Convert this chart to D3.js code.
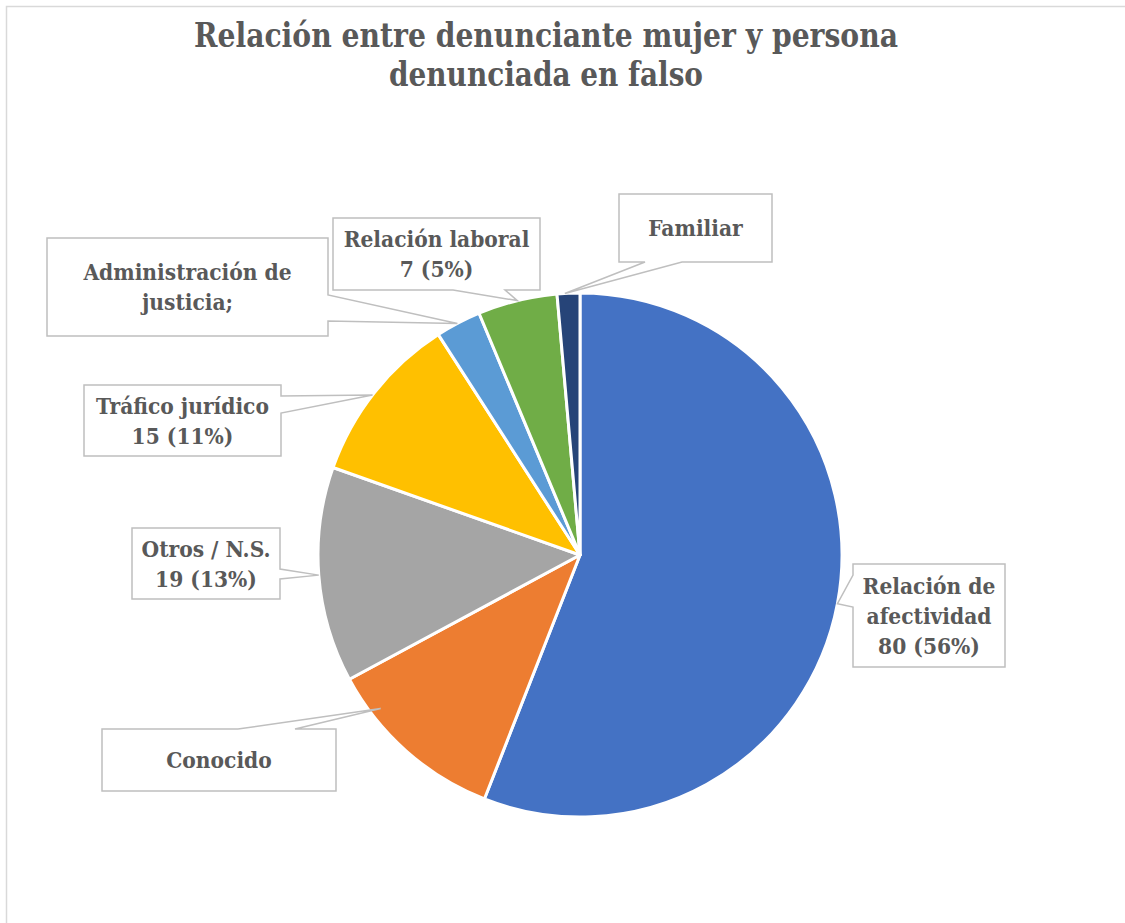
<!DOCTYPE html>
<html>
<head>
<meta charset="utf-8">
<script src="https://cdn.jsdelivr.net/npm/d3@7"></script>
<style>
  body { margin: 0; background: #fff; }
  svg text { font-weight: bold; fill: #595959; }
</style>
</head>
<body>
<div id="chart"></div>
<script>
// data
const categories = ['Relación de afectividad', 'Conocido', 'Otros / N.S.', 'Tráfico jurídico',
                    'Administración de justicia;', 'Relación laboral', 'Familiar'];
const values = [80, 16, 19, 15, 4, 7, 2];
const labelLines = [
  ['Relación de', 'afectividad', '80 (56%)'],
  ['Conocido'],
  ['Otros / N.S.', '19 (13%)'],
  ['Tráfico jurídico', '15 (11%)'],
  ['Administración de', 'justicia;'],
  ['Relación laboral', '7 (5%)'],
  ['Familiar']
];
const colors = ['#4472C4', '#ED7D31', '#A5A5A5', '#FFC000', '#5B9BD5', '#70AD47', '#264478'];

// callout layout (box, side with pointer, pointer base, where along slice the tip sits)
const callouts = [
  {x: 853, y: 564, w: 152, h: 103, side: 'left',   base: [575, 607], t: 0.5,  r: 1},
  {x: 102, y: 729, w: 234, h: 62,  side: 'top',    base: [238, 295], t: 0.77, r: 0.96},
  {x: 132, y: 528, w: 148, h: 71,  side: 'right',  base: [569, 579], t: 0.5,  r: 1},
  {x: 84,  y: 385, w: 197, h: 71,  side: 'right',  base: [396, 413], t: 0.48, r: 1},
  {x: 47,  y: 238, w: 281, h: 98,  side: 'right',  base: [295, 321], t: 0.48, r: 1},
  {x: 333, y: 218, w: 207, h: 72,  side: 'bottom', base: [453, 505], t: 0.5,  r: 1},
  {x: 619, y: 194, w: 153, h: 68,  side: 'bottom', base: [645, 682], t: 0.34, r: 1}
];

const W = 1125, H = 923;
const cx = 580, cy = 555, R = 262;

const svg = d3.select('#chart').append('svg')
  .attr('width', W).attr('height', H);

// chart frame
svg.append('rect')
  .attr('x', 6.5).attr('y', 6.5)
  .attr('width', W + 10).attr('height', H + 10)
  .attr('fill', '#fff').attr('stroke', '#d9d9d9').attr('stroke-width', 1.5);

// title
const title = svg.append('text')
  .attr('text-anchor', 'middle')
  .style('font-family', '"DejaVu Serif Condensed", "DejaVu Serif", serif')
  .style('font-size', '33px');
title.append('tspan').attr('x', 546).attr('y', 47)
  .attr('textLength', 704).attr('lengthAdjust', 'spacingAndGlyphs')
  .text('Relación entre denunciante mujer y persona');
title.append('tspan').attr('x', 546).attr('y', 86)
  .attr('textLength', 314).attr('lengthAdjust', 'spacingAndGlyphs')
  .text('denunciada en falso');

const pie = d3.pie().sort(null).value(d => d);
const arcs = pie(values);
const arc = d3.arc().innerRadius(0).outerRadius(R);

const g = svg.append('g').attr('transform', `translate(${cx},${cy})`);
g.selectAll('path')
  .data(arcs)
  .enter()
  .append('path')
  .attr('d', arc)
  .attr('fill', (d, i) => colors[i])
  .attr('stroke', '#fff')
  .attr('stroke-width', 3)
  .attr('stroke-linejoin', 'round');

// callout path: rectangle with a wedge pointing at the slice
const calloutPath = (c, tip) => {
  const x0 = c.x, y0 = c.y, x1 = c.x + c.w, y1 = c.y + c.h;
  const [a, b] = c.base;
  const p = d3.path();
  p.moveTo(x0, y0);
  if (c.side === 'top') { p.lineTo(a, y0); p.lineTo(tip[0], tip[1]); p.lineTo(b, y0); }
  p.lineTo(x1, y0);
  if (c.side === 'right') { p.lineTo(x1, a); p.lineTo(tip[0], tip[1]); p.lineTo(x1, b); }
  p.lineTo(x1, y1);
  if (c.side === 'bottom') { p.lineTo(b, y1); p.lineTo(tip[0], tip[1]); p.lineTo(a, y1); }
  p.lineTo(x0, y1);
  if (c.side === 'left') { p.lineTo(x0, b); p.lineTo(tip[0], tip[1]); p.lineTo(x0, a); }
  p.closePath();
  return p.toString();
};

const labels = svg.append('g');
arcs.forEach((d, i) => {
  const c = callouts[i];
  const ang = d.startAngle + c.t * (d.endAngle - d.startAngle);
  const tip = [cx + R * c.r * Math.sin(ang), cy - R * c.r * Math.cos(ang)];
  labels.append('path')
    .attr('d', calloutPath(c, tip))
    .attr('fill', '#fff')
    .attr('stroke', '#bfbfbf')
    .attr('stroke-width', 1.5);
  const lines = labelLines[i];
  const lh = 30;
  const midY = c.y + c.h / 2;
  const t = labels.append('text')
    .attr('text-anchor', 'middle')
    .style('font-family', '"DejaVu Serif Condensed", "DejaVu Serif", serif')
    .style('font-size', '22.5px');
  lines.forEach((ln, k) => {
    t.append('tspan')
      .attr('x', c.x + c.w / 2)
      .attr('y', midY + (k - (lines.length - 1) / 2) * lh + 8)
      .text(ln);
  });
});
</script>
</body>
</html>
